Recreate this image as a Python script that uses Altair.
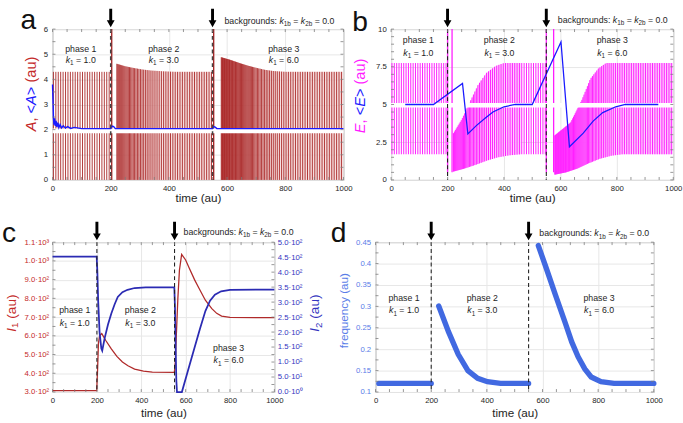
import altair as alt
import numpy as np
import pandas as pd

FONT = "Liberation Sans"
INK = "#1e1e1e"
GRID = "#e6e6e6"
FRAME = "#9a9a9a"
TICK = "#7a7a7a"
RED = "#a31616"
RED_PALE = "#f2d2d2"
RED_C = "#b02a2a"
RED_T = "#c42a2a"
MAG = "#ff1cff"
MAG_PALE = "#fcc8fc"
BLUE = "#1a1aff"
BLUE_C = "#2b2bb3"
BLUE_T = "#3434c0"
BLUE_D = "#4169e1"
BLUE_DT = "#5a7de8"

# ---------------- data ----------------
x_ticks = [0, 200, 400, 600, 800, 1000]
x_minor = list(range(0, 1001, 50))
switch_t = [200, 550]
phase_names = ["phase 1", "phase 2", "phase 3"]
k_values = ["1.0", "3.0", "6.0"]

# panel d : oscillation frequency (one value per cycle in the original)
f1_t = [12, 200]
f1_v = [0.12, 0.12]
f2_t = [227, 262, 297, 332, 367, 402, 449, 550]
f2_v = [0.301, 0.241, 0.188, 0.150, 0.132, 0.124, 0.120, 0.120]
f3_t = [585, 612, 647, 682, 705, 728, 752, 775, 810, 857, 1000]
f3_v = [0.442, 0.392, 0.326, 0.261, 0.217, 0.182, 0.154, 0.135, 0.124, 0.120, 0.120]

# first spike and end of each phase's spike train
spike_start = [3, 221, 580]
spike_end = [200, 549, 1000]

# panel a : spike envelope of A
a_top1_t = [0, 200]
a_top1_v = [4.3, 4.3]
a_top2_t = [221, 250, 280, 310, 340, 380, 420, 549]
a_top2_v = [4.62, 4.52, 4.45, 4.39, 4.35, 4.32, 4.30, 4.30]
a_top3_t = [580, 610, 640, 670, 700, 730, 760, 800, 1000]
a_top3_v = [4.88, 4.78, 4.66, 4.55, 4.46, 4.38, 4.33, 4.30, 4.30]
a_zero_t = [0, 1000]
a_zero_v = [0.0, 0.0]
a_full_t = [203.5, 554]          # single spikes leaving the plot
a_avg_t = [0, 1.5, 3, 5, 7, 9.5, 12, 15, 18, 22, 26, 31, 37, 44, 52, 62, 75, 100,
           200, 205, 210, 216, 550, 554, 559, 565, 1000]
a_avg_v = [3.8, 3.2, 2.5, 2.2, 2.45, 2.15, 2.35, 2.1, 2.28, 2.08, 2.2, 2.07, 2.15, 2.06,
           2.12, 2.05, 2.09, 2.04, 2.04, 2.14, 2.12, 2.04, 2.04, 2.12, 2.1, 2.04, 2.04]
a_band = 1.95
a_yticks = [0, 1, 2, 3, 4, 5, 6]
a_yminor = [0.5 * i for i in range(13)]

# panel b : spike envelope of E
e_lo1_t = [0, 200]
e_lo1_v = [1.7, 1.7]
e_hi1_t = [0, 200]
e_hi1_v = [7.75, 7.75]
e_lo2_t = [221, 260, 300, 340, 380, 420, 460, 550]
e_lo2_v = [0.55, 0.75, 1.0, 1.28, 1.5, 1.63, 1.7, 1.7]
e_hi2_t = [221, 250, 280, 308, 338, 370, 400, 550]
e_hi2_v = [3.1, 4.0, 5.2, 6.3, 7.1, 7.55, 7.75, 7.75]
e_lo3_t = [580, 620, 660, 700, 740, 780, 820, 1000]
e_lo3_v = [0.35, 0.5, 0.75, 1.1, 1.4, 1.6, 1.7, 1.7]
e_hi3_t = [580, 636, 676, 706, 735, 762, 1000]
e_hi3_v = [2.95, 3.8, 5.3, 6.7, 7.4, 7.75, 7.75]
e_full_t = [200, 216, 550, 576]
e_avg_t = [50, 150, 253, 272, 302, 334, 361, 400, 440, 500, 602, 632, 681, 716, 750, 796, 830, 947]
e_avg_v = [5.0, 5.0, 6.4, 3.05, 3.6, 4.1, 4.5, 4.85, 5.0, 5.0, 9.15, 2.2, 3.1, 3.9, 4.46, 4.85, 5.0, 5.0]
e_band = 4.95
e_yticks = [0, 2.5, 5, 7.5, 10]
e_yminor = [0.5 * i for i in range(21)]

# panel c : I1 (left axis) and I2 (right axis)
i1_t = [0, 199, 203, 207, 212, 222, 240, 265, 290, 315, 340, 370, 410, 450, 549,
        553, 558, 565, 572, 582, 600, 615, 640, 659, 689, 718, 740, 762, 800, 1000]
i1_v = [308, 308, 420, 560, 600, 612, 575, 530, 490, 460, 440, 422, 411, 406, 405,
        450, 600, 800, 950, 1035, 1005, 965, 900, 857, 790, 745, 720, 705, 698, 697]
i2_t = [0, 199, 202, 206, 212, 220, 224, 235, 250, 265, 280, 294, 315, 338, 370, 420, 549,
        552, 555, 558, 561, 583, 610, 640, 665, 689, 710, 732, 760, 800, 1000]
i2_v = [452, 452, 400, 300, 200, 145, 138, 180, 225, 262, 293, 317, 333, 341, 347, 349, 349,
        280, 150, 40, 0, 0, 70, 148, 212, 270, 305, 325, 336, 341, 342]
i1_ticks = [300, 400, 500, 600, 700, 800, 900, 1000, 1100]
i1_minor = list(range(300, 1101, 50))
i2_ticks = [0, 50, 100, 150, 200, 250, 300, 350, 400, 450, 500]
i2_minor = list(range(0, 501, 25))
f_ticks = [0.1, 0.15, 0.2, 0.25, 0.3, 0.35, 0.4, 0.45]
f_minor = [0.1 + 0.025 * i for i in range(15)]

# ---------------- helpers ----------------
CW = {' ': .278, '(': .333, ')': .333, ',': .278, '.': .278, ':': .278, '<': .584, '=': .584,
      '>': .584, 'A': .667, 'E': .667, 'I': .278, 'a': .556, 'b': .556, 'c': .5, 'd': .556,
      'e': .556, 'f': .278, 'g': .556, 'h': .556, 'i': .222, 'k': .5, 'm': .833, 'n': .556,
      'o': .556, 'p': .556, 'q': .556, 'r': .333, 's': .5, 't': .278, 'u': .556, 'y': .5}
ONE = pd.DataFrame({"o": [0]})


def tw(s, size):
    return sum(CW.get(ch, 0.556) for ch in s) * size


def txt(text, size, color, italic, x, y, angle=0):
    kw = dict(text=text, font=FONT, fontSize=size, color=color, align="left",
              baseline="alphabetic", fontStyle="italic" if italic else "normal")
    if angle:
        kw["angle"] = angle
    return alt.Chart(ONE).mark_text(**kw).encode(x=alt.value(x), y=alt.value(y))


def hrich(parts, x, y, align="left"):
    total = sum(tw(p[0], p[1]) for p in parts)
    x0 = x - total / 2 if align == "center" else x
    out = []
    for text, size, color, italic, shift in parts:
        lead = len(text) - len(text.lstrip())
        out.append(txt(text.strip(), size, color, italic, x0 + tw(" " * lead, size), y + shift))
        x0 += tw(text, size)
    return out


def vrich(parts, x, y):
    out = []
    y0 = y
    for text, size, color, italic, shift in parts:
        lead = len(text) - len(text.lstrip())
        out.append(txt(text.strip(), size, color, italic, x + shift, y0 - tw(" " * lead, size), 270))
        y0 -= tw(text, size)
    return out


def phase_block(i, cx, y1, y2):
    return (hrich([(phase_names[i], 9, INK, False, 0)], cx, y1, "center") +
            hrich([("k", 9, INK, True, 0), ("1", 6.5, INK, False, 2.5),
                   (" = " + k_values[i], 9, INK, False, 0)], cx, y2, "center"))


def backgrounds(x, y):
    return hrich([("backgrounds: ", 9, INK, False, 0), ("k", 9, INK, True, 0),
                  ("1b", 6.5, INK, False, 2.5), (" = ", 9, INK, False, 0),
                  ("k", 9, INK, True, 0), ("2b", 6.5, INK, False, 2.5),
                  (" = 0.0", 9, INK, False, 0)], x, y)


def anchor(x, y):
    # invisible zero-width mark that fixes the bounding box of a row
    return alt.Chart(ONE).mark_rule(strokeWidth=0, opacity=0).encode(
        x=alt.value(x), x2=alt.value(x + 2), y=alt.value(y), y2=alt.value(y))


def spikes(i, ft, fv, lo_t, lo_v, hi_t, hi_v):
    rows = []
    t = spike_start[i]
    while t < spike_end[i]:
        rows.append((t, float(np.interp(t, lo_t, lo_v)), float(np.interp(t, hi_t, hi_v))))
        t += 1.0 / float(np.interp(t, ft, fv))
    return rows


XS = alt.Scale(domain=[0, 1000], nice=False, zero=False)


def x_axis(pad=5, ty=18):
    return alt.Axis(values=x_ticks, format="d", title="time (au)", titleFont=FONT, titleFontSize=12,
                    titleFontWeight="normal", titleColor=INK, titleY=ty, titleBaseline="middle",
                    labelFont=FONT, labelFontSize=8, labelColor=INK, labelPadding=pad,
                    labelFlush=False, ticks=False, domain=False, grid=True, gridColor=GRID)


def y_axis(values, pad=5, color=INK, **kw):
    return alt.Axis(values=values, title=None, labelFont=FONT, labelFontSize=8, labelColor=color,
                    labelPadding=pad, ticks=False, domain=False, grid=True, gridColor=GRID, **kw)


ARROW = "M-0.375,-4.75L0.375,-4.75L0.375,-1.75L1,-1.75L0,0L-1,-1.75L-0.375,-1.75Z"
df_sw = pd.DataFrame({"t": switch_t})


def common(xax, W, H, dash_color="#222", dash_width=1.1):
    X = alt.X("t:Q", scale=XS, axis=xax)
    dashed = alt.Chart(df_sw).mark_rule(color=dash_color, strokeWidth=dash_width,
                                        strokeDash=[4, 3]).encode(x=X)
    arrows = alt.Chart(df_sw).mark_point(shape=ARROW, size=64, filled=True, color="black",
                                          opacity=1, strokeWidth=0).encode(x=X, y=alt.value(-2))
    dfx = pd.DataFrame({"t": x_minor})
    xt = [alt.Chart(dfx).mark_rule(color=TICK, strokeWidth=0.8).encode(
              x=X, y=alt.value(y0), y2=alt.value(y1)) for y0, y1 in [(H, H - 3), (0, 3)]]
    return X, [dashed, arrows] + xt


def yticks(Y, values, W, left=True, right=True):
    d = pd.DataFrame({Y.shorthand.split(":")[0]: values})
    out = []
    if left:
        out.append(alt.Chart(d).mark_rule(color=TICK, strokeWidth=0.8).encode(
            y=Y, x=alt.value(0), x2=alt.value(3)))
    if right:
        out.append(alt.Chart(d).mark_rule(color=TICK, strokeWidth=0.8).encode(
            y=Y, x=alt.value(W), x2=alt.value(W - 3)))
    return out


# ---------------- panel a ----------------
W_A, H_A = 299, 155
YA = alt.Scale(domain=[0, 6], nice=False)
AXA = y_axis(a_yticks)
XA, extraA = common(x_axis(5, 18), W_A, H_A, "#444", 1.6)
YA_lo = alt.Y("lo:Q", scale=YA, axis=AXA)

spA = (spikes(0, f1_t, f1_v, a_zero_t, a_zero_v, a_top1_t, a_top1_v) +
       spikes(1, f2_t, f2_v, a_zero_t, a_zero_v, a_top2_t, a_top2_v) +
       spikes(2, f3_t, f3_v, a_zero_t, a_zero_v, a_top3_t, a_top3_v))
df_spA = pd.DataFrame(spA, columns=["t", "lo", "hi"])
df_envA = pd.concat([pd.DataFrame({"t": a_top2_t, "lo": 0.0, "hi": a_top2_v, "ph": 2}),
                     pd.DataFrame({"t": a_top3_t, "lo": 0.0, "hi": a_top3_v, "ph": 3})])

pA = [
    alt.Chart(df_envA).mark_area(color=RED_PALE, opacity=0.7).encode(
        x=XA, y=YA_lo, y2="hi:Q", detail="ph:N"),
    alt.Chart(df_spA).mark_rule(color=RED, strokeWidth=0.85).encode(x=XA, y=YA_lo, y2="hi:Q"),
    alt.Chart(pd.DataFrame({"t": a_full_t, "lo": 0.0, "hi": 6.0})).mark_rule(
        color=RED, strokeWidth=1.3).encode(x=XA, y=YA_lo, y2="hi:Q"),
    alt.Chart(pd.DataFrame({"lo": [a_band]})).mark_rule(color="white", strokeWidth=5).encode(y=YA_lo),
    alt.Chart(pd.DataFrame({"t": a_avg_t, "lo": a_avg_v})).mark_line(color=BLUE, strokeWidth=1.5).encode(
        x=XA, y=YA_lo),
    anchor(-34, -23), anchor(-34, H_A + 28),
] + extraA + yticks(YA_lo, a_yminor, W_A)
pA += hrich([("a", 29, "#111", False, 0)], -33, 0)
pA += vrich([("A", 15, RED_T, True, 0), (", ", 15, RED_T, False, 0), ("<", 15, BLUE, False, 0),
             ("A", 15, BLUE, True, 0), (">", 15, BLUE, False, 0), (" (au)", 15, RED_T, False, 0)],
            -17, 105)
pA += phase_block(0, 29, 23.7, 34.7) + phase_block(1, 114.3, 23.7, 34.7) + phase_block(2, 237.7, 23.7, 34.7)
pA += backgrounds(176.7, -5.7)
panelA = alt.layer(*pA).properties(width=W_A, height=H_A)

# ---------------- panel b ----------------
W_B, H_B = 290, 155
YB = alt.Scale(domain=[0, 10], nice=False)
AXB = y_axis(e_yticks, format=".1~f")
XB, extraB = common(x_axis(5, 18), W_B, H_B)
YB_lo = alt.Y("lo:Q", scale=YB, axis=AXB)

spB = (spikes(0, f1_t, f1_v, e_lo1_t, e_lo1_v, e_hi1_t, e_hi1_v) +
       spikes(1, f2_t, f2_v, e_lo2_t, e_lo2_v, e_hi2_t, e_hi2_v) +
       spikes(2, f3_t, f3_v, e_lo3_t, e_lo3_v, e_hi3_t, e_hi3_v))
df_spB = pd.DataFrame(spB, columns=["t", "lo", "hi"])
env_rows = []
for ph, (lt, lv, ht, hv, t0, t1) in enumerate([(e_lo2_t, e_lo2_v, e_hi2_t, e_hi2_v, 221, 549),
                                               (e_lo3_t, e_lo3_v, e_hi3_t, e_hi3_v, 580, 1000)]):
    for t in sorted(set([x for x in lt + ht if t0 <= x <= t1])):
        env_rows.append((t, float(np.interp(t, lt, lv)), float(np.interp(t, ht, hv)), ph))
df_envB = pd.DataFrame(env_rows, columns=["t", "lo", "hi", "ph"])

pB = [
    alt.Chart(df_envB).mark_area(color=MAG_PALE, opacity=0.9).encode(
        x=XB, y=YB_lo, y2="hi:Q", detail="ph:N"),
    alt.Chart(df_spB).mark_rule(color=MAG, strokeWidth=1.0).encode(x=XB, y=YB_lo, y2="hi:Q"),
    alt.Chart(pd.DataFrame({"t": e_full_t, "lo": 0.5, "hi": 10.0})).mark_rule(
        color=MAG, strokeWidth=1.3).encode(x=XB, y=YB_lo, y2="hi:Q"),
    alt.Chart(pd.DataFrame({"lo": [e_band]})).mark_rule(color="white", strokeWidth=4.5).encode(y=YB_lo),
    alt.Chart(pd.DataFrame({"t": e_avg_t, "lo": e_avg_v})).mark_line(color=BLUE, strokeWidth=1.3).encode(
        x=XB, y=YB_lo),
] + extraB + yticks(YB_lo, e_yminor, W_B)
pB += hrich([("b", 29, "#111", False, 0)], -40, 2)
pB += vrich([("E", 15, MAG, True, 0), (", ", 15, MAG, False, 0), ("<", 15, BLUE, False, 0),
             ("E", 15, BLUE, True, 0), (">", 15, BLUE, False, 0), (" (au)", 15, MAG, False, 0)],
            -27, 107)
pB += phase_block(0, 28, 14.3, 27.7) + phase_block(1, 111.3, 14.3, 27.7) + phase_block(2, 227.3, 14.3, 27.7)
pB += backgrounds(171.3, -6.3)
panelB = alt.layer(*pB).properties(width=W_B, height=H_B)

# ---------------- panel c ----------------
W_C, H_C = 228, 154
XC, extraC = common(x_axis(5, 21), W_C, H_C)
lab1 = "datum.value >= 1000 ? format(datum.value/1000, '.1f') + '·10³' : format(datum.value/100, '.1f') + '·10²'"
lab2 = ("datum.value == 0 ? '0.0·10⁰' : datum.value < 100 ? format(datum.value/10, '.1f') + '·10¹'"
        " : format(datum.value/100, '.1f') + '·10²'")
S1 = alt.Scale(domain=[300, 1100], nice=False, zero=False)
S2 = alt.Scale(domain=[0, 500], nice=False)
red_c = alt.Chart(pd.DataFrame({"t": i1_t, "v1": i1_v})).mark_line(color=RED_C, strokeWidth=1.3).encode(
    x=XC, y=alt.Y("v1:Q", scale=S1, axis=y_axis(i1_ticks, 4, RED_T, orient="left", labelExpr=lab1)))
blue_c = alt.Chart(pd.DataFrame({"t": i2_t, "v2": i2_v})).mark_line(color=BLUE_C, strokeWidth=1.8).encode(
    x=XC, y=alt.Y("v2:Q", scale=S2,
                  axis=alt.Axis(values=i2_ticks, title=None, labelFont=FONT, labelFontSize=8,
                                labelColor=BLUE_T, labelPadding=3, ticks=False, domain=False,
                                grid=False, orient="right", labelExpr=lab2)))
pC = [red_c, blue_c, anchor(-53, -23)] + extraC
pC += yticks(alt.Y("v1:Q", scale=S1, axis=None), i1_minor, W_C, right=False)
pC += yticks(alt.Y("v2:Q", scale=S2, axis=None), i2_minor, W_C, left=False)
pC += hrich([("c", 29, "#111", False, 0)], -52, 0)
pC += vrich([("I", 14, RED_T, True, 0), ("1", 10, RED_T, False, 3), (" (au)", 14, RED_T, False, 0)], -38, 92)
pC += vrich([("I", 14, BLUE_T, True, 0), ("2", 10, BLUE_T, False, 3), (" (au)", 14, BLUE_T, False, 0)],
            W_C + 46, 92)
pC += phase_block(0, 22.8, 73.3, 86) + phase_block(1, 90.3, 73.3, 86) + phase_block(2, 181, 111.7, 124.3)
pC += backgrounds(134.7, -7.7)
panelC = alt.layer(*pC).resolve_scale(y="independent").properties(width=W_C, height=H_C)

# ---------------- panel d ----------------
W_D, H_D = 286, 154
XD, extraD = common(x_axis(5, 21), W_D, H_D)
YD_f = alt.Y("f:Q", scale=alt.Scale(domain=[0.1, 0.45], nice=False, zero=False),
             axis=y_axis(f_ticks, 5, BLUE_DT, format=".2~f"))
df_f = pd.concat([pd.DataFrame({"t": f1_t, "f": f1_v, "ph": 1}),
                  pd.DataFrame({"t": f2_t, "f": f2_v, "ph": 2}),
                  pd.DataFrame({"t": f3_t, "f": f3_v, "ph": 3})])
pD = [
    alt.Chart(df_f).mark_line(color=BLUE_D, strokeWidth=5.5, strokeCap="round").encode(
        x=XD, y=YD_f, detail="ph:N"),
] + extraD + yticks(YD_f, f_minor, W_D)
pD += hrich([("d", 29, "#111", False, 0)], -46, 0)
pD += vrich([("frequency (au)", 12, BLUE_DT, False, 0)], -28, 109)
pD += phase_block(0, 29.3, 60.7, 73.3) + phase_block(1, 109.7, 60.7, 73.3) + phase_block(2, 229.7, 60.7, 73.3)
pD += backgrounds(168.3, -6)
panelD = alt.layer(*pD).properties(width=W_D, height=H_D)

row1 = alt.hconcat(panelA, panelB, spacing=49, bounds="flush")
row2 = alt.hconcat(panelC, panelD, spacing=104, bounds="flush")
chart = alt.vconcat(row1, row2, spacing=11, bounds="full").properties(
    padding=0, background="white").configure_view(stroke=FRAME, strokeWidth=1)

chart.save("out.html", embed_options={"renderer": "svg", "actions": False})
